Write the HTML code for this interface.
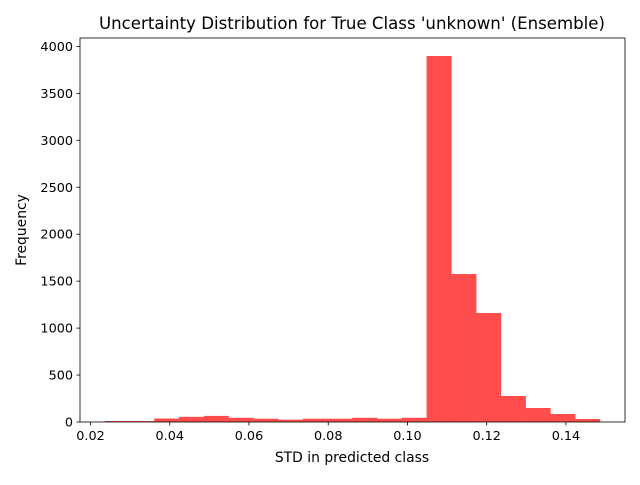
<!DOCTYPE html>
<html><head><meta charset="utf-8"><style>
body{margin:0;background:#fff;width:640px;height:480px;overflow:hidden}
text{font-family:"DejaVu Sans","Liberation Sans",sans-serif;fill:#000}
</style></head><body>
<svg id="chart" width="640" height="480">
<text x="352" y="29" font-size="16.6" text-anchor="middle">Uncertainty Distribution for True Class 'unknown' (Ensemble)</text>
<g id="bars"></g>
<g id="axes"></g>
<text x="352" y="462" font-size="13.9" text-anchor="middle">STD in predicted class</text>
<text x="0" y="0" font-size="13.9" text-anchor="middle" transform="translate(26,230) rotate(-90)">Frequency</text>
</svg>
<script>
const binStart = 0.0236;
const binWidth = 0.006248;
const counts = [10,10,37,55,65,45,35,25,35,35,45,35,45,3898,1576,1161,277,149,85,32];
const xTicks = [0.02,0.04,0.06,0.08,0.10,0.12,0.14];
const xTickLabels = ["0.02","0.04","0.06","0.08","0.10","0.12","0.14"];
const yTicks = [0,500,1000,1500,2000,2500,3000,3500,4000];

const X0=80,X1=625,Y0=38,Y1=422;
const xs=v=>90.5+(v-0.02)*3962;
const ys=v=>422-v*0.0939;
const NS="http://www.w3.org/2000/svg";
const bars=document.getElementById('bars'), axes=document.getElementById('axes');
function mk(tag,attrs,parent){const e=document.createElementNS(NS,tag);for(const k in attrs)e.setAttribute(k,attrs[k]);parent.appendChild(e);return e;}
counts.forEach((c,i)=>{
  const a=xs(binStart+i*binWidth), b=xs(binStart+(i+1)*binWidth);
  const r=mk('rect',{x:a,y:ys(c),width:b-a+0.3,height:ys(0)-ys(c),fill:'#ff4c4c'},bars);
  
  
});
const frame=mk('rect',{x:X0,y:Y0,width:X1-X0,height:Y1-Y0,fill:'none',stroke:'#000','stroke-width':0.8},axes);


xTicks.forEach((t,i)=>{
  const x=xs(t);
  mk('line',{x1:x,x2:x,y1:Y1,y2:Y1+3.5,stroke:'#000','stroke-width':0.8},axes);
  const tx=mk('text',{x:x,y:Y1+18,'font-size':12.8,'text-anchor':'middle'},axes);
  tx.textContent=xTickLabels[i];
  
  
});
yTicks.forEach(t=>{
  const y=ys(t);
  mk('line',{x1:X0-3.5,x2:X0,y1:y,y2:y,stroke:'#000','stroke-width':0.8},axes);
  const tx=mk('text',{x:X0-7,y:y+4.5,'font-size':12.8,'text-anchor':'end'},axes);
  tx.textContent=String(t);
  
  
});
</script>
</body></html>
